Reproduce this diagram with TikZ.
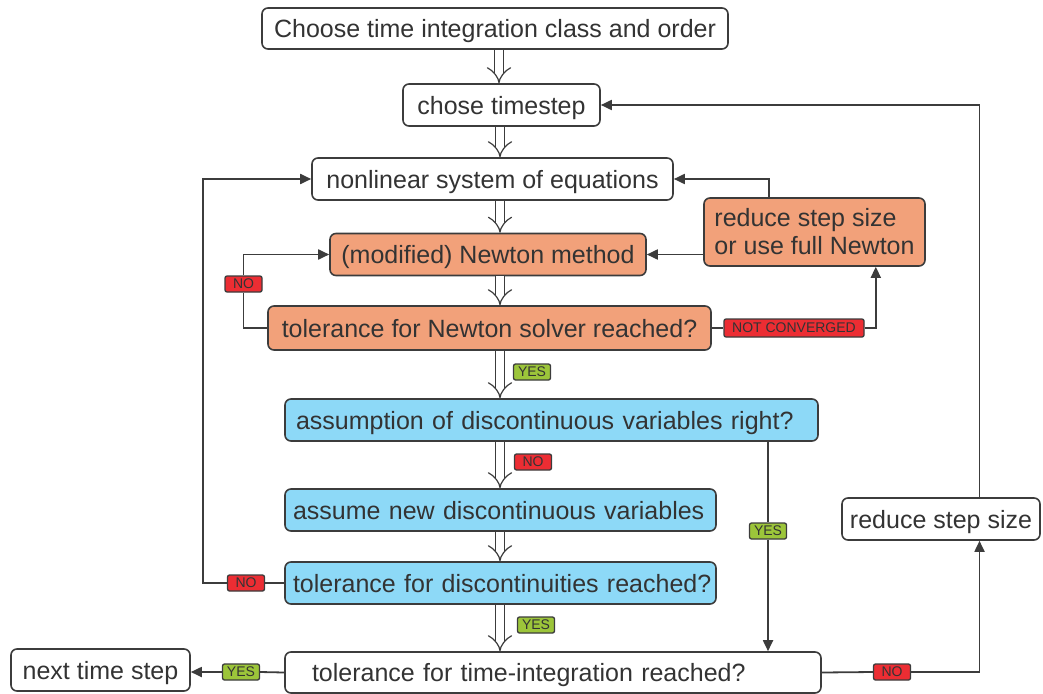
\documentclass[tikz,border=0pt]{standalone}
\usepackage{fontspec}
\setmainfont{Liberation Sans}
\usetikzlibrary{arrows.meta,calc}
\definecolor{bd}{HTML}{3C3C3C}
\definecolor{txt}{HTML}{333333}
\definecolor{orangefill}{HTML}{F2A17A}
\definecolor{bluefill}{HTML}{8DD9F7}
\definecolor{redlab}{HTML}{EC2D33}
\definecolor{greenlab}{HTML}{9CC53A}
\tikzset{
  box/.style={draw=bd, line width=1.6pt, rounded corners=6pt, fill=white,
    minimum height=42pt, inner ysep=0pt, inner xsep=0pt, text=txt,
    text height=20pt, text depth=2pt,
    font=\fontsize{25}{28}\selectfont},
  orangebox/.style={box, fill=orangefill},
  bluebox/.style={box, fill=bluefill},
  lab/.style={draw=bd, line width=1.3pt, rounded corners=2pt, minimum width=37pt,
    minimum height=16pt, inner sep=1pt, text=txt, font=\fontsize{14}{14}\selectfont},
  nolab/.style={lab, fill=redlab},
  yeslab/.style={lab, fill=greenlab},
  dbl/.style={draw=bd, line width=1.2pt, double=white, double distance=7.5pt, -{Implies}},
  arr/.style={draw=bd, line width=1.8pt, -{Triangle[length=11pt,width=10pt]}},
  ln/.style={draw=bd, line width=1.8pt}
}
\begin{document}
\begin{tikzpicture}[x=1pt,y=-1pt]
\useasboundingbox (0,0) rectangle (1043,693);

% process boxes
\node[box, minimum width=466pt, minimum height=41pt] (n1) at (495,28.5) {Choose time integration class and order};
\node[box, minimum width=197pt] (n2) at (501.5,105) {chose timestep};
\node[box, minimum width=361pt] (n3) at (492.5,179) {nonlinear system of equations};
\node[orangebox, minimum width=316pt] (n4) at (488,254.5) {(modified) Newton method};
\node[orangebox, minimum width=443pt, minimum height=44pt] (n5) at (489.5,328) {tolerance for Newton solver reached?};
\node[orangebox, minimum width=221pt, minimum height=68pt, align=left, text height=, text depth=] (n6) at (814.5,232) {reduce step size\\or use full Newton};
\node[bluebox, text width=511pt, inner xsep=11pt, align=left] (n7) at (551.5,420) {\mbox{assumption of discontinuous variables right?}};
\node[bluebox, text width=415pt, inner xsep=8pt, align=left] (n8) at (500.5,510) {\mbox{assume new discontinuous variables}};
\node[bluebox, text width=415pt, inner xsep=8pt, align=left] (n9) at (500.5,583) {\mbox{tolerance for discontinuities reached?}};
\node[box, text width=482pt, inner xsep=27pt, minimum height=41pt, align=left] (n10) at (553,672.5) {\mbox{tolerance for time-integration reached?}};
\node[box, minimum width=179pt] (n11) at (100.5,670) {next time step};
\node[box, minimum width=198pt] (n12) at (941,519) {reduce step size};

% branch labels
\node[nolab] (lno1) at (243.5,284) {NO};
\node[yeslab] (lyes1) at (532,372) {YES};
\node[nolab] (lno2) at (533,462) {NO};
\node[yeslab] (lyes2) at (768,531) {YES};
\node[nolab] (lno3) at (246,583) {NO};
\node[yeslab] (lyes3) at (536,625) {YES};
\node[yeslab] (lyes4) at (241,672) {YES};
\node[nolab] (lno4) at (892,672) {NO};
\node[nolab, minimum width=140pt, minimum height=18pt] (lnc) at (794,328) {NOT CONVERGED};

% helper columns
\coordinate (ax) at (500,0);
\coordinate (lx) at (203,0);
\coordinate (rx) at (979.5,0);

% main downward flow
\draw[dbl] (n1.south -| 499,0) -- (n2.north -| 499,0);
\draw[dbl] (n2.south -| ax) -- (n3.north -| ax);
\draw[dbl] (n3.south -| ax) -- (n4.north -| ax);
\draw[dbl] (n4.south -| ax) -- (n5.north -| ax);
\draw[dbl] (n5.south -| ax) -- (n7.north -| ax);
\draw[dbl] (n7.south -| ax) -- (n8.north -| ax);
\draw[dbl] (n8.south -| ax) -- (n9.north -| ax);
\draw[dbl] (n9.south -| ax) -- (n10.north -| ax);

% Newton loop
\draw[ln] (n5.west) -| (lno1.south);
\draw[arr] (lno1.north) |- (n4.west);
\draw[ln] (n5.east) -- (lnc.west);
\draw[arr] (lnc.east) -| ($(n6.south east)+(-50,0)$);
\draw[arr] ($(n6.north west)+(66,0)$) |- (n3.east);
\draw[arr] (n6.west |- n4.east) -- (n4.east);

% discontinuity loop
\draw[ln] (n7.south -| lyes2) -- (lyes2.north);
\draw[arr] (lyes2.south) -- (n10.north -| lyes2);
\draw[ln] (n9.west) -- (lno3.east);
\draw[arr] (lno3.west) -| (lx |- n3.west) -- (n3.west);

% time step loop
\draw[ln] (n10.west) -- (lyes4.east);
\draw[arr] (lyes4.west) -- (n11.east |- lyes4.west);
\draw[ln] (n10.east) -- (lno4.west);
\draw[arr] (lno4.east) -| (n12.south -| rx);
\draw[arr] (n12.north -| rx) |- (n2.east);
\end{tikzpicture}
\end{document}
